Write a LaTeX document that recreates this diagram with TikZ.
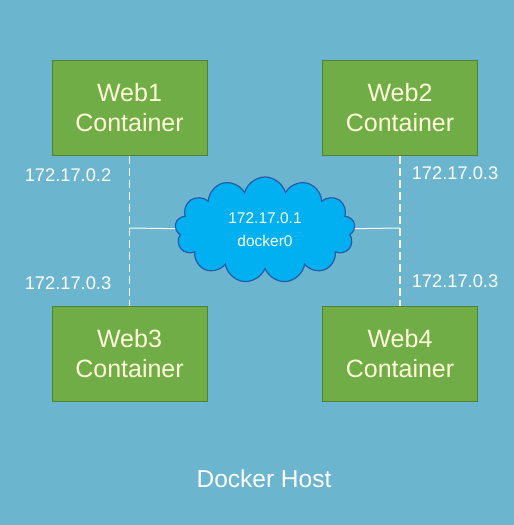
\documentclass[tikz,border=0pt]{standalone}
\usepackage{fontspec}
\setmainfont{Liberation Sans}
\usetikzlibrary{shapes.symbols}
\definecolor{hostblue}{RGB}{107,181,206}
\definecolor{boxgreen}{RGB}{112,173,71}
\definecolor{boxline}{RGB}{80,130,50}
\definecolor{cloudblue}{RGB}{0,176,240}
\definecolor{cloudline}{RGB}{40,90,170}
\begin{document}
\begin{tikzpicture}[x=1pt,y=-1pt,
  container/.style={draw=boxline,fill=boxgreen,line width=1pt,minimum width=155pt,minimum height=95pt,inner sep=0pt,align=center,text=white!85!yellow,font=\fontsize{25}{30}\selectfont},
  ip/.style={text=white,font=\fontsize{18.3}{21}\selectfont},
  vlink/.style={white,line width=1.5pt,dash pattern=on 8pt off 4pt},
  hlink/.style={white,line width=1pt}]
\fill[hostblue] (0,0) rectangle (514,525);
\useasboundingbox (0,0) rectangle (514,525);

\node[container] (web1) at (129.5,107.5) {Web1\\Container};
\node[container] (web2) at (400,107.5) {Web2\\Container};

\node[container] (web3) at (129.5,353.5) {Web3\\Container};
\node[container] (web4) at (400,353.5) {Web4\\Container};

\node[cloud,cloud puffs=13,aspect=1.8,draw=cloudline,line width=1.2pt,fill=cloudblue,minimum width=180pt,minimum height=106pt,
  align=center,text=white,font=\fontsize{15.5}{23}\selectfont] (docker0) at (265,230) {172.17.0.1\\docker0};

\coordinate (left) at (web1.south |- 0,228);
\coordinate (right) at (web2.south |- 0,228);

\draw[vlink] (web1) -- (web3)
             (web2) -- (web4);

\draw[hlink] (left) -- (docker0)
             (docker0) -- (right);

\node[ip] (ip1) at (68,175) {172.17.0.2};
\node[ip] (ip3) at (68,283) {172.17.0.3};
\node[ip] (ip2) at (455,173) {172.17.0.3};
\node[ip] (ip4) at (455,281) {172.17.0.3};

\node[text=white,font=\fontsize{24.5}{28}\selectfont] (host) at (264,479) {Docker Host};

\end{tikzpicture}
\end{document}
